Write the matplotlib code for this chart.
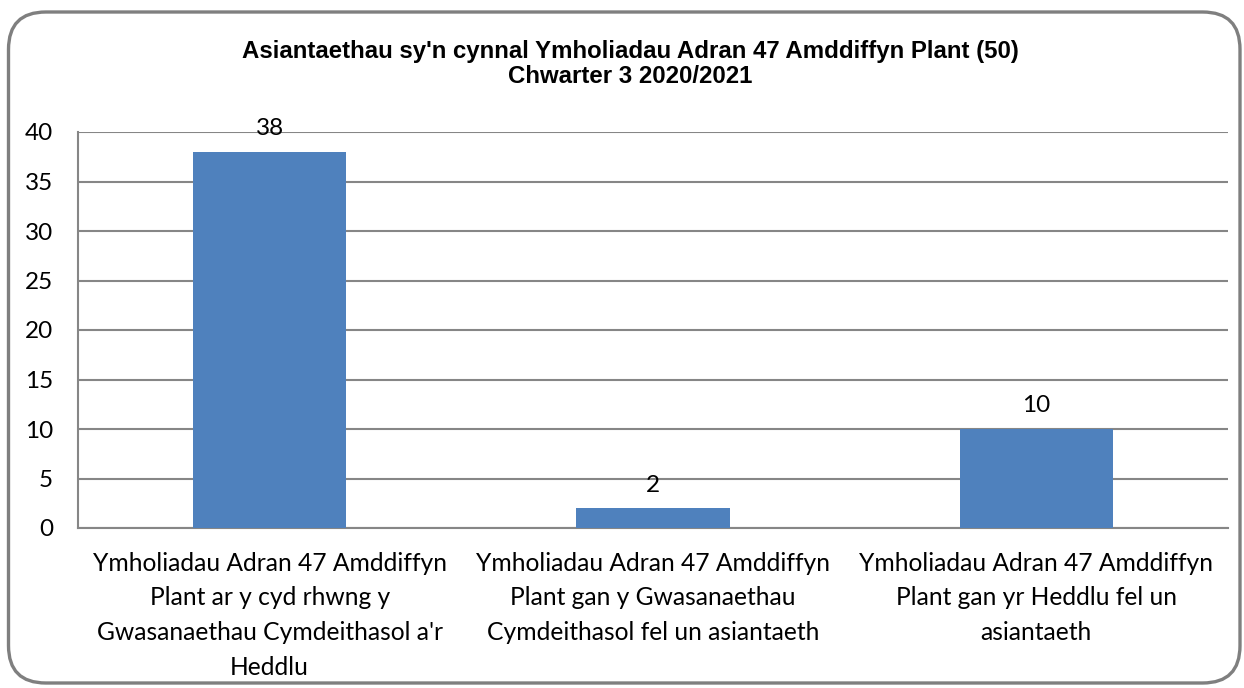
import matplotlib
matplotlib.use("Agg")
import matplotlib.pyplot as plt
from matplotlib.patches import FancyBboxPatch

categories = [
    "Ymholiadau Adran 47 Amddiffyn\nPlant ar y cyd rhwng y\nGwasanaethau Cymdeithasol a'r\nHeddlu",
    "Ymholiadau Adran 47 Amddiffyn\nPlant gan y Gwasanaethau\nCymdeithasol fel un asiantaeth",
    "Ymholiadau Adran 47 Amddiffyn\nPlant gan yr Heddlu fel un\nasiantaeth",
]
values = [38, 2, 10]
yticks = [0, 5, 10, 15, 20, 25, 30, 35, 40]
title = "Asiantaethau sy'n cynnal Ymholiadau Adran 47 Amddiffyn Plant (50)\nChwarter 3 2020/2021"

W, H = 1244, 688
fig = plt.figure(figsize=(W / 100, H / 100), dpi=100)
fig.patch.set_facecolor("white")

# rounded outer frame
frame = FancyBboxPatch((8.5 / W, 5 / H), (W - 8.5 - 4) / W, (H - 12 - 5) / H,
                       boxstyle="round,pad=0,rounding_size=0.03",
                       transform=fig.transFigure, facecolor="none",
                       edgecolor="#7f7f7f", linewidth=2.4, mutation_aspect=W / H,
                       clip_on=False)
fig.patches.append(frame)

left, right, top, bottom = 78, 1228, 132, 528
ax = fig.add_axes([left / W, 1 - bottom / H, (right - left) / W, (bottom - top) / H])

label_font = "Lato"
x = list(range(len(categories)))
ax.bar(x, values, width=0.4, color="#4F81BD", zorder=3)
ax.set_xlim(-0.5, len(categories) - 0.5)
ax.set_ylim(0, 40)
ax.set_yticks(yticks)
ax.set_yticklabels([str(t) for t in yticks], fontsize=17.5, family=label_font)
ax.set_xticks(x)
ax.set_xticklabels(categories, fontsize=17.7, family=label_font, linespacing=1.62)
ax.tick_params(axis="both", length=0, colors="black")
ax.tick_params(axis="y", pad=18)
ax.tick_params(axis="x", pad=17)
ax.yaxis.grid(True, color="#868686", linewidth=1.5, zorder=0)
for s in ["top", "right"]:
    ax.spines[s].set_visible(False)
ax.spines["left"].set_color("#868686")
ax.spines["bottom"].set_color("#868686")
ax.spines["left"].set_linewidth(1.5)
ax.spines["bottom"].set_linewidth(1.5)

for xi, v in zip(x, values):
    ax.annotate(str(v), (xi, v), xytext=(0, 9), textcoords="offset points",
                ha="center", va="bottom", fontsize=17.5, family=label_font)

fig.text(630 / W, 1 - 64 / H, title, ha="center", va="center",
         fontsize=17.3, fontweight="bold", family="Liberation Sans", linespacing=1.1)

fig.savefig("out.png", dpi=100)
